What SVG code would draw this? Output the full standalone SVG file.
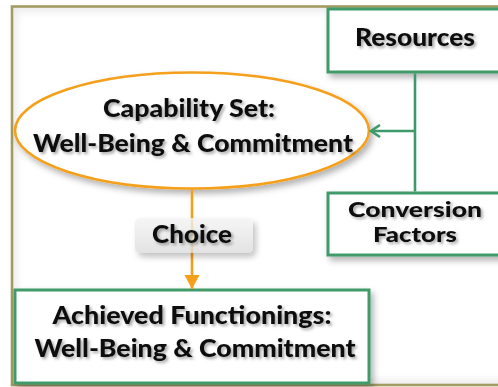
<svg xmlns="http://www.w3.org/2000/svg" width="498" height="387" viewBox="0 0 498 387">
  <defs>
    <filter id="sh" x="-10%" y="-10%" width="130%" height="140%">
      <feDropShadow dx="3" dy="4" stdDeviation="3" flood-color="#000" flood-opacity="0.3"/>
    </filter>
    <filter id="tsh" x="-5%" y="-20%" width="115%" height="160%">
      <feDropShadow dx="2" dy="2" stdDeviation="1.5" flood-color="#000" flood-opacity="0.35"/>
    </filter>
    <filter id="inner" x="0" y="0" width="100%" height="100%">
      <feGaussianBlur stdDeviation="4"/>
    </filter>
    <linearGradient id="lab" x1="0" y1="0" x2="0" y2="1">
      <stop offset="0" stop-color="#f4f4f4"/>
      <stop offset="1" stop-color="#dcdcdc"/>
    </linearGradient>
    <marker id="open" markerWidth="14" markerHeight="14" refX="12" refY="7" orient="auto" markerUnits="userSpaceOnUse">
      <path d="M3,1 L12,7 L3,13" fill="none" stroke="#3f9a6b" stroke-width="2.6"/>
    </marker>
    <marker id="tri" markerWidth="16" markerHeight="16" refX="14" refY="7.5" orient="auto" markerUnits="userSpaceOnUse">
      <path d="M0,0 L14,7.5 L0,15 Z" fill="#f5a01a"/>
    </marker>
  </defs>
  <style>
    .box { fill: #ffffff; stroke: #3f9a6b; stroke-width: 3; }
    .t { font-family: Lato, "Open Sans", "Liberation Sans", sans-serif; font-weight: 900; fill: #111; text-anchor: middle; }
    .g { stroke: #3f9a6b; stroke-width: 2.6; fill: none; }
    .o { stroke: #f5a01a; stroke-width: 2.6; fill: none; }
  </style>

  <g id="frame">
    <rect x="12" y="6.5" width="500" height="378.5" fill="#ffffff"/>
    <rect x="12" y="6.5" width="500" height="378.5" fill="none" stroke="#e6e6e6" stroke-width="8" filter="url(#inner)"/>
    <rect x="12" y="6.5" width="500" height="378.5" fill="none" stroke="#a39c62" stroke-width="2.6"/>
  </g>

  <g id="resources">
    <rect class="box" x="328" y="9" width="190" height="63" filter="url(#sh)"/>
    <text class="t" x="415" y="46" font-size="25" textLength="120" lengthAdjust="spacingAndGlyphs" filter="url(#tsh)">Resources</text>
  </g>

  <g id="conversion">
    <rect class="box" x="328" y="193" width="190" height="62" filter="url(#sh)"/>
    <text class="t" x="415" y="217" font-size="21" textLength="134" lengthAdjust="spacingAndGlyphs" filter="url(#tsh)">Conversion</text>
    <text class="t" x="415" y="242" font-size="21" textLength="84" lengthAdjust="spacingAndGlyphs" filter="url(#tsh)">Factors</text>
  </g>

  <g id="capability">
    <ellipse cx="192" cy="130.5" rx="177" ry="58" fill="#ffffff" stroke="#f5a01a" stroke-width="2.6" filter="url(#sh)"/>
    <text class="t" x="189" y="117" font-size="24" textLength="172" lengthAdjust="spacingAndGlyphs" filter="url(#tsh)">Capability Set:</text>
    <text class="t" x="193" y="152" font-size="25" textLength="320" lengthAdjust="spacingAndGlyphs" filter="url(#tsh)">Well-Being &amp; Commitment</text>
  </g>

  <g id="achieved">
    <rect class="box" x="15" y="290" width="354" height="93" filter="url(#sh)"/>
    <text class="t" x="192" y="324" font-size="24" textLength="279" lengthAdjust="spacingAndGlyphs" filter="url(#tsh)">Achieved Functionings:</text>
    <text class="t" x="195" y="357" font-size="25" textLength="321" lengthAdjust="spacingAndGlyphs" filter="url(#tsh)">Well-Being &amp; Commitment</text>
  </g>

  <g id="connectors">
    <line class="g" x1="415" y1="73.5" x2="415" y2="191.5"/>
    <line class="g" x1="415" y1="131" x2="371" y2="131" marker-end="url(#open)"/>
    <line class="o" x1="192" y1="189.5" x2="192" y2="289" marker-end="url(#tri)"/>
  </g>

  <g id="choice">
    <rect x="135" y="218" width="118" height="35" rx="5" fill="url(#lab)" opacity="0.8" filter="url(#sh)"/>
    <text class="t" x="192" y="243" font-size="24" textLength="80" lengthAdjust="spacingAndGlyphs" filter="url(#tsh)">Choice</text>
  </g>
</svg>
